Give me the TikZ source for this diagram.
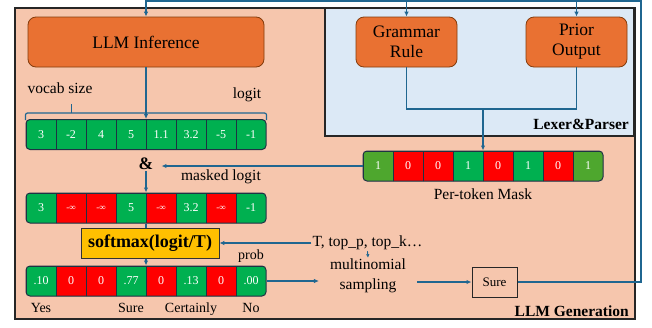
\documentclass[tikz,border=0pt]{standalone}
\usepackage{fontspec}
\setmainfont{Liberation Serif}
\usetikzlibrary{arrows.meta,positioning,calc}
\definecolor{genpeach}{HTML}{F6C6AD}
\definecolor{lexblue}{HTML}{DCE9F6}
\definecolor{blockorange}{HTML}{E97132}
\definecolor{blockedge}{HTML}{843C0C}
\definecolor{wireblue}{HTML}{1F6690}
\definecolor{gcell}{HTML}{00B050}
\definecolor{lgcell}{HTML}{4EA72E}
\definecolor{rcell}{HTML}{FF0000}
\definecolor{softgold}{HTML}{FFC000}
\definecolor{celledge}{HTML}{1E3344}
\newcommand{\ninf}{{\fontsize{9}{9}\selectfont -∞}}
\tikzset{
  block/.style={
    rectangle,
    rounded corners=8pt,
    draw=blockedge,
    fill=blockorange,
    line width=0.8pt,
    align=center,
    font=\fontsize{17.5}{20}\selectfont
  },
  tokcell/.style={rectangle, draw=celledge, line width=0.8pt, minimum width=30pt,
    minimum height=30pt, inner sep=0pt, text=white, font=\fontsize{12}{12}\selectfont},
  tokframe/.style={rectangle, rounded corners=4pt, draw=celledge, line width=1pt,
    minimum width=240pt, minimum height=30pt, inner sep=0pt},
  lbltext/.style={inner sep=1pt, align=center, font=\fontsize{15.5}{20}\selectfont},
  wordtag/.style={inner sep=1pt, text height=10pt, text depth=3pt, font=\fontsize{14}{16}\selectfont},
  paneltitle/.style={inner sep=0pt, anchor=base east, font=\bfseries\fontsize{15.5}{18}\selectfont},
  wire/.style={draw=wireblue, line width=1.2pt},
  wirearrow/.style={wire, -{Latex[length=5pt,width=4.5pt]}}
}
\newcommand{\tokrow}[3]{%
  \begin{scope}
    \clip[rounded corners=4pt] ($(#2)+(-120,-15)$) rectangle ($(#2)+(120,15)$);
    \foreach \v/\c [count=\i] in {#3}
      \node[tokcell, fill=\c] (#1-\i) at ($(#2)+(\i*30-135,0)$) {\v};
  \end{scope}
  \node[tokframe] (#1) at (#2) {};
}

\begin{document}
\begin{tikzpicture}[x=1pt, y=-1pt]
\useasboundingbox (0,0) rectangle (652,327);
% panels
\draw[fill=genpeach, draw=black!85, line width=1.4pt] (15,8) rectangle (635,319);
\draw[fill=lexblue, draw=black!85, line width=1.2pt] (325,8) rectangle (634,136);
\node[paneltitle] (lexlbl) at (629,129) {Lexer\&Parser};
\node[paneltitle] (genlbl) at (629,316) {LLM Generation};
% blocks
\node[block, minimum width=236pt, minimum height=50pt] (llm) at (146,42) {LLM Inference};
\node[block, minimum width=101pt, minimum height=50pt] (grammar) at (406.5,42) {Grammar\\Rule};
\node[block, minimum width=101pt, minimum height=50pt] (prior) at (576.5,42) {Prior\\Output};
% token rows
\tokrow{logit}{146,134.5}{3/gcell,-2/gcell,4/gcell,5/gcell,1.1/gcell,3.2/gcell,-5/gcell,-1/gcell}
\tokrow{mask}{483,166}{1/lgcell,0/rcell,0/rcell,1/gcell,0/rcell,1/gcell,0/rcell,1/lgcell}
\tokrow{masked}{146,208}{3/gcell,\ninf/rcell,\ninf/rcell,5/gcell,\ninf/rcell,3.2/gcell,\ninf/rcell,-1/gcell}
\tokrow{prob}{146,281}{.10/gcell,0/rcell,0/rcell,.77/gcell,0/rcell,.13/gcell,0/rcell,.00/gcell}
% labels
\node[lbltext] (vocab) at (60,88) {vocab size};
\node[lbltext] (logitlbl) at (247,95) {logit};
\node[lbltext, inner xsep=8pt, font=\bfseries\fontsize{17.5}{18}\selectfont] (amp) at (146,164) {\&};
\node[lbltext] (maskedlbl) at (221,177) {masked logit};
\node[lbltext, below=6pt of mask] (masklbl) {Per-token Mask};
\node[wordtag, above=2pt of prob-8] (problbl) {prob};
\node[wordtag, below=5pt of prob-1] (yes) {Yes};
\node[wordtag, below=5pt of prob-4] (surelbl) {Sure};
\node[wordtag, below=5pt of prob-6] (certainly) {Certainly};
\node[wordtag, below=5pt of prob-8] (no) {No};
\draw[wirearrow] (masked.south) -- (prob.north);
\node[draw=black!80, fill=softgold, line width=0.8pt, minimum width=138pt, minimum height=30pt,
  font=\bfseries\fontsize{18}{18}\selectfont] (softmax) at (150,243) {softmax(logit/T)};
\node[lbltext] (params) at (367.5,243) {T, top\_p, top\_k…};
\node[lbltext, inner xsep=11pt] (sampling) at (368,276) {multinomial\\sampling};
\node[draw=black!85, line width=1pt, minimum width=45pt, minimum height=30pt,
  font=\fontsize{13}{13}\selectfont] (sure) at (494.5,282) {Sure};
% connectors
\coordinate (fbcorner) at (641,1);
\coordinate (join) at (483,109);
\draw[wirearrow] (sure.east) -| (fbcorner) -| (llm.north);
\draw[wirearrow] (grammar.north |- fbcorner) -- (grammar.north);
\draw[wirearrow] (prior.north |- fbcorner) -- (prior.north);
\draw[wire] (grammar.south) |- (join) -| (prior.south);
\draw[wirearrow] (join) -- (mask.north);
\draw[wire, rounded corners=2pt] ([yshift=-1pt]logit.north west) |- ([yshift=6pt]logit.north east) -- ([yshift=-1pt]logit.north east);
\draw[wire] ($(logit.north west)+(46,-6)$) -- ++(0,-9);
\draw[wirearrow] (llm.south) -- (logit.north);
\draw[wirearrow] (mask.west) -- (mask.west -| amp.east);
\draw[wirearrow] (amp.south) -- (masked.north);
\draw[wirearrow] (params.west) -- (softmax.east);
\draw[wire, line width=0.9pt, -{Latex[length=3.5pt,width=3.5pt]}] (params.south) -- (sampling.north);
\draw[wirearrow] (prob.east) -- (prob.east -| sampling.west);
\draw[wirearrow] (sure.west -| sampling.east) -- (sure.west);
\end{tikzpicture}
\end{document}
